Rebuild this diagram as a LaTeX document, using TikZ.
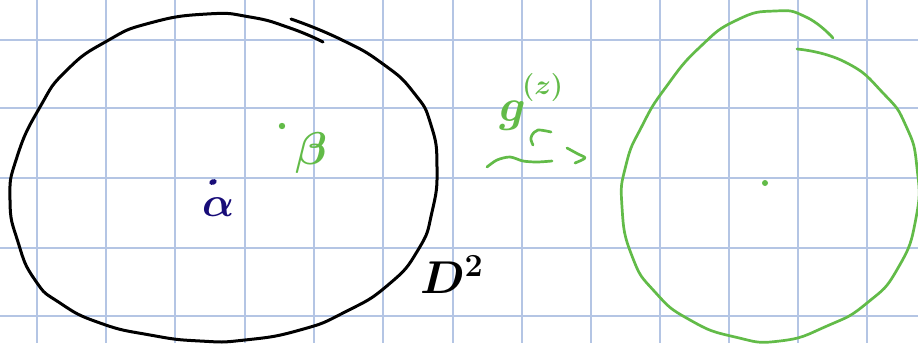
\RequirePackage{fix-cm}
\documentclass[tikz,border=0pt]{standalone}
\definecolor{gridblue}{RGB}{180,197,228}
\definecolor{inkgreen}{RGB}{98,187,72}
\definecolor{inknavy}{RGB}{24,12,120}
\begin{document}
\begin{tikzpicture}[x=1pt,y=-1pt,
  gridline/.style={draw=gridblue,line width=1.3pt},
  blackink/.style={draw=black,line width=3pt,line cap=round,line join=round},
  greenink/.style={draw=inkgreen,line width=2.7pt,line cap=round,line join=round},
  txt/.style={inner sep=0pt,outer sep=0pt}]
\useasboundingbox (0,0) rectangle (918,343);
\fill[white] (0,0) rectangle (918,343);
\clip (0,0) rectangle (918,343);
% grid paper
\foreach \gx in {37,106,175,245,314,383,453,522,591,660,729,798,867}
  \draw[gridline] (\gx,0) -- (\gx,343);
\foreach \gy in {40,108,178,248,316}
  \draw[gridline] (0,\gy) -- (918,\gy);
% black disk D^2
\draw[blackink] plot[smooth,tension=0.9] coordinates {
 (291,19) (340,39) (383,64) (414,93) (431,125) (437,167)
 (432,212) (418,250) (388,285) (345,312) (300,330)
 (245,340) (200,341) (150,335) (100,323) (60,303) (35,280)
 (18,242) (10,200) (17,157) (40,107) (67,70) (107,41) (150,23)
 (207,14) (250,17) (290,28) (323,42)};
% green circle
\draw[greenink] plot[smooth,tension=0.9] coordinates {
 (797,49) (845,62) (883,93) (906,126) (917,168) (916,218)
 (898,268) (867,303) (827,326) (780,341) (735,337)
 (690,320) (655,292) (632,256) (622,207) (626,165)
 (642,126) (666,87) (700,47) (737,20) (775,11) (806,17)
 (833,38)};
% points
\fill[inknavy,rotate around={20:(213,182)}] (213,182) ellipse (3.8pt and 2.8pt);
\fill[inkgreen] (282,126) circle (3.2);
\fill[inkgreen] (765,183) circle (3);
% labels
\node[txt,text=inknavy,font=\fontsize{42}{42}\selectfont\boldmath] (alpha) at (218,207) {$\alpha$};
\node[txt,text=inkgreen,font=\fontsize{46}{46}\selectfont\boldmath] (beta) at (311,153) {$\beta$};
\node[txt,anchor=base west,font=\fontsize{46}{46}\selectfont\boldmath] (disk) at (420,293) {$D^{2}$};
\node[txt,anchor=base west,text=inkgreen,font=\fontsize{46}{46}\selectfont\boldmath] (g) at (499,121) {$g$};
\node[txt,anchor=base west,text=inkgreen,font=\fontsize{28}{28}\selectfont\boldmath] (z) at (522,94) {$(z)$};
% hand marks under g
\draw[greenink] plot[smooth] coordinates {(551,132) (538,130) (532,135) (531,140) (533,145)};
\draw[greenink] plot[smooth] coordinates {(487,167) (497,160) (510,157) (523,161) (537,162) (552,161)};
\draw[greenink] plot[smooth] coordinates {(567,148) (578,154) (585,158) (575,163)};
\end{tikzpicture}
\end{document}
